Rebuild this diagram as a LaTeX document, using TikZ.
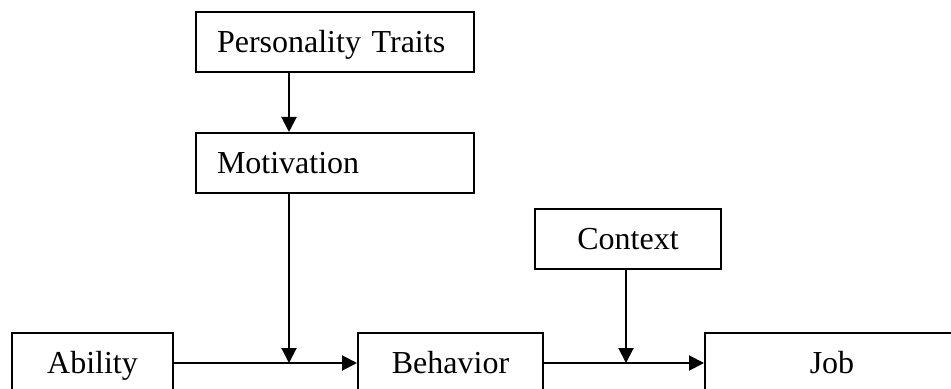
\documentclass[tikz,border=0pt]{standalone}
\usepackage{fontspec}
\setmainfont{Liberation Serif}
\usetikzlibrary{arrows.meta}
\begin{document}
\begin{tikzpicture}[x=0.5pt,y=-0.5pt,
  box/.style={draw,line width=1pt,minimum height=30pt,inner sep=0pt,
    text height=13pt,text depth=2.5pt,font=\fontsize{16}{19}\selectfont},
  leftbox/.style={box,text width=118pt,inner xsep=10.5pt,align=left},
  link/.style={line width=1pt,-{Triangle[width=7.5pt,length=7.5pt]}}]
  \clip (0,0) rectangle (951,389);
  % Upper chain
  \node[leftbox] (pers) at (335,42) {Personality Traits};
  \node[leftbox] (motiv) at (335,163) {Motivation};
  \node[box,minimum width=93pt] (context) at (628,239.5) {Context};
  % Lower chain
  \node[box,minimum width=80.5pt] (ability) at (92.5,363) {Ability};
  \node[box,minimum width=92.5pt] (behavior) at (450.5,363) {Behavior};
  \node[box,minimum width=127pt] (job) at (832,363) {Job};
  \coordinate (j1) at (289,363);
  \coordinate (j2) at (626,363);
  % Arrows
  \draw[link] (pers.south -| j1) -- (motiv.north -| j1);
  \draw[link] (motiv.south -| j1) -- (j1);
  \draw[link] (context.south -| j2) -- (j2);
  \draw[link] (ability) -- (behavior);
  \draw[link] (behavior) -- (job);
\end{tikzpicture}
\end{document}
